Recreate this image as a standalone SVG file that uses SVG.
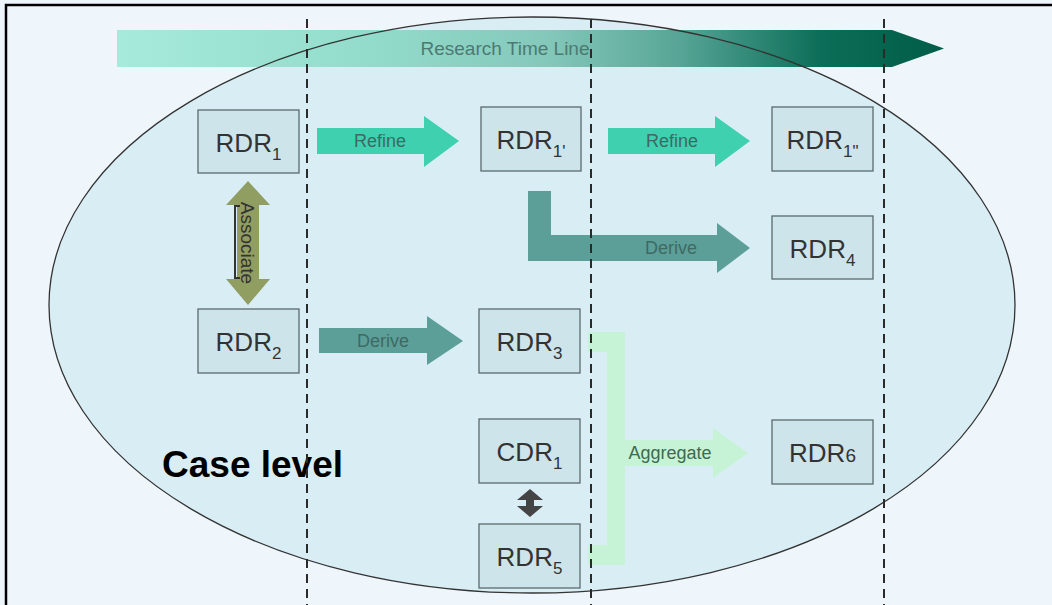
<svg xmlns="http://www.w3.org/2000/svg" width="1052" height="605" viewBox="0 0 1052 605">
<defs>
<linearGradient id="tl" x1="117" y1="0" x2="944" y2="0" gradientUnits="userSpaceOnUse">
<stop offset="0" stop-color="#a6eadb"/>
<stop offset="0.3" stop-color="#93dccb"/>
<stop offset="0.52" stop-color="#84c8ba"/>
<stop offset="0.68" stop-color="#57a596"/>
<stop offset="0.85" stop-color="#0c6e58"/>
<stop offset="1" stop-color="#005c46"/>
</linearGradient>
<style>
.box{fill:#cde4ea;stroke:#5a6a6e;stroke-width:1.3}
.lbl{font-family:"Liberation Sans",Arial,sans-serif;font-size:26px;fill:#333;text-anchor:middle}
.sub{font-size:17px}
.alb{font-family:"Liberation Sans",Arial,sans-serif;font-size:18px;fill:#3e6a64;text-anchor:middle}
.dash{stroke:#2a2a2a;stroke-width:2;stroke-dasharray:9 6;fill:none}
</style>
</defs>
<rect x="0" y="0" width="1052" height="605" fill="#eef6fc"/>
<rect x="6" y="5" width="1100" height="650" fill="none" stroke="#000" stroke-width="2.5"/>
<ellipse cx="532" cy="305" rx="483" ry="288" fill="#d9eef4"/>
<polygon points="117,30 892,30 944,48.5 892,67 117,67" fill="url(#tl)"/>
<text x="505" y="55" class="alb" style="font-size:19px;fill:#4c7a73">Research Time Line</text>
<ellipse cx="532" cy="305" rx="483" ry="288" fill="none" stroke="#333" stroke-width="1.3"/>
<text x="162" y="477" font-family="Liberation Sans,Arial,sans-serif" font-weight="bold" font-size="37" fill="#000">Case level</text>
<g id="connectors">
<path d="M317,128 H424 V116 L459,141 L424,167 V154 H317 Z" fill="#3fd0b0"/>
<text x="380" y="147" class="alb">Refine</text>
<path d="M608,128 H715 V116 L750,141 L715,167 V154 H608 Z" fill="#3fd0b0"/>
<text x="672" y="147" class="alb">Refine</text>
<path d="M528,191 H551 V235 H717 V223 L750,248 L717,273 V261 H528 Z" fill="#5c9f99"/>
<text x="671" y="254" class="alb">Derive</text>
<path d="M319,328 H427 V316 L463,341 L427,365 V353 H319 Z" fill="#5c9f99"/>
<text x="383" y="347" class="alb">Derive</text>
<path d="M248,181 L270,205 H259 V279 H270 L248,305 L226,279 H237 V205 H226 Z" fill="#909e62"/>
<path d="M240,206 H235 V278 H240" fill="none" stroke="#333" stroke-width="2"/>
<text transform="translate(241,243) rotate(90)" class="alb" style="fill:#333;font-size:19px">Associate</text>
<path d="M530,489 L543,500 H534 V506 H543 L530,517 L517,506 H526 V500 H517 Z" fill="#444"/>
<path d="M588,332 H625 V440 H713 V428 L748,453 L713,478 V466 H625 V565 H588 V545 H607 V352 H588 Z" fill="#c6f3d6"/>
<text x="670" y="459" class="alb" style="fill:#3e6a50">Aggregate</text>
</g>
<g id="rdr1"><rect class="box" x="198" y="110" width="101" height="63"/><text class="lbl" x="248.5" y="152">RDR<tspan class="sub" dy="8">1</tspan></text></g>
<g id="rdr1p"><rect class="box" x="481" y="107" width="100" height="64"/><text class="lbl" x="531" y="149">RDR<tspan class="sub" dy="8">1'</tspan></text></g>
<g id="rdr1pp"><rect class="box" x="772" y="107" width="101" height="64"/><text class="lbl" x="822.5" y="149">RDR<tspan class="sub" dy="8">1"</tspan></text></g>
<g id="rdr4"><rect class="box" x="772" y="216" width="101" height="63"/><text class="lbl" x="822.5" y="258">RDR<tspan class="sub" dy="8">4</tspan></text></g>
<g id="rdr2"><rect class="box" x="198" y="309" width="101" height="64"/><text class="lbl" x="248.5" y="351">RDR<tspan class="sub" dy="8">2</tspan></text></g>
<g id="rdr3"><rect class="box" x="479" y="309" width="101" height="64"/><text class="lbl" x="529.5" y="351">RDR<tspan class="sub" dy="8">3</tspan></text></g>
<g id="cdr1"><rect class="box" x="479" y="419" width="101" height="64"/><text class="lbl" x="529.5" y="461">CDR<tspan class="sub" dy="8">1</tspan></text></g>
<g id="rdr5"><rect class="box" x="479" y="524" width="101" height="64"/><text class="lbl" x="529.5" y="566">RDR<tspan class="sub" dy="8">5</tspan></text></g>
<g id="rdr6"><rect class="box" x="772" y="420" width="101" height="64"/><text class="lbl" x="822.5" y="462">RDR<tspan style="font-size:19px">6</tspan></text></g>
<line class="dash" x1="307" y1="19" x2="307" y2="605"/>
<line class="dash" x1="591" y1="19" x2="591" y2="605"/>
<line class="dash" x1="884" y1="19" x2="884" y2="605"/>
</svg>
